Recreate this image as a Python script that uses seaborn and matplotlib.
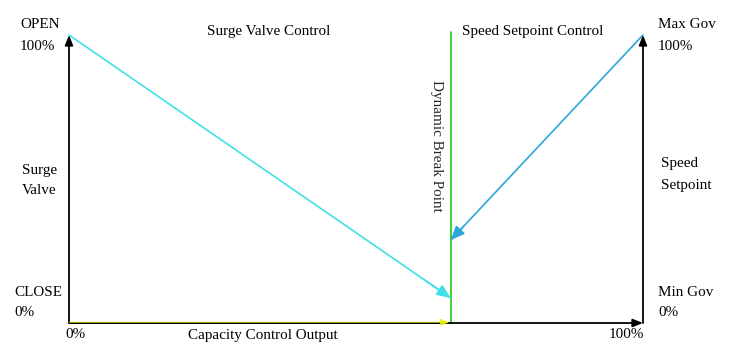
import matplotlib
matplotlib.use("Agg")
import matplotlib.pyplot as plt
import seaborn as sns
import pandas as pd

# ---- data (percent) ----
capacity_pct = [0, 66.5, 100]          # x: capacity control output
surge_valve_pct = [100, 8.7]           # surge valve from x=0 to break point
speed_setpoint_pct = [100, 28.8]       # speed setpoint from x=100 to break point
break_point_pct = 66.5
break_line_pct = [0, 101]
axis_labels_left = ["OPEN", "100%", "Surge", "Valve", "CLOSE", "0%"]
axis_labels_right = ["Max Gov", "100%", "Speed", "Setpoint", "Min Gov", "0%"]

sns.set_theme(style="white")
plt.rcParams['font.family'] = ['Liberation Serif', 'DejaVu Serif']

W, H = 736, 353
fig = plt.figure(figsize=(W / 100, H / 100), dpi=100)
x0p, x1p, y0p, y1p = 69, 643, 323, 35
ax = fig.add_axes([x0p / W, 1 - y0p / H, (x1p - x0p) / W, (y0p - y1p) / H])
ax.set_xlim(0, 100)
ax.set_ylim(0, 100)
ax.axis("off")

surge_df = pd.DataFrame({"x": capacity_pct[:2], "y": surge_valve_pct})
speed_df = pd.DataFrame({"x": [capacity_pct[2], capacity_pct[1]], "y": speed_setpoint_pct})
break_df = pd.DataFrame({"x": [break_point_pct, break_point_pct], "y": break_line_pct})

# axes with arrow heads
arrow_kw = dict(arrowstyle="-|>,head_length=0.5,head_width=0.2", color="black", lw=1.3,
                shrinkA=0, shrinkB=0)
ax.annotate("", xy=(0, 100), xytext=(0, 0), arrowprops=arrow_kw, annotation_clip=False)
ax.annotate("", xy=(100, 100), xytext=(100, 0), arrowprops=arrow_kw, annotation_clip=False)
ax.annotate("", xy=(100, 0), xytext=(break_point_pct, 0), arrowprops=arrow_kw, annotation_clip=False)
ax.plot([0, break_point_pct], [0, 0], color="black", lw=1.4, clip_on=False, zorder=2)
ax.annotate("", xy=(break_point_pct - 0.3, 0.25), xytext=(0, 0.25),
            arrowprops=dict(arrowstyle="-|>,head_length=0.45,head_width=0.18", color="#eeee00",
                            lw=0.6, shrinkA=0, shrinkB=0, alpha=0.9),
            annotation_clip=False, zorder=3)

# green break line
sns.lineplot(data=break_df, x="x", y="y", color="#33cc22", lw=1.3, ax=ax, sort=False,
             estimator=None, clip_on=False)

# surge valve and speed setpoint lines
sns.lineplot(data=surge_df, x="x", y="y", color="#40e0e8", lw=1.2, ax=ax, sort=False,
             estimator=None, clip_on=False)
sns.lineplot(data=speed_df, x="x", y="y", color="#2aa8d8", lw=1.2, ax=ax, sort=False,
             estimator=None, clip_on=False)

def head(df, color):
    xa, ya = df["x"].iloc[0], df["y"].iloc[0]
    xb, yb = df["x"].iloc[1], df["y"].iloc[1]
    t = 0.93
    ax.annotate("", xy=(xb, yb), xytext=(xa + (xb - xa) * t, ya + (yb - ya) * t),
                arrowprops=dict(arrowstyle="-|>,head_length=0.7,head_width=0.3", color=color,
                                lw=1.2, shrinkA=0, shrinkB=0), annotation_clip=False)

head(surge_df, "#40e0e8")
head(speed_df, "#2aa8d8")

fs = 10.9
def t(px, py, s, **kw):
    fig.text(px / W, 1 - py / H, s, fontsize=fs, color="black", va="center", **kw)

t(20, 24, axis_labels_left[0])
t(20, 46, axis_labels_left[1])
t(22, 170, axis_labels_left[2])
t(22, 191, axis_labels_left[3])
t(14, 292, axis_labels_left[4])
t(14, 313, axis_labels_left[5])

t(658, 25, axis_labels_right[0])
t(658, 47, axis_labels_right[1])
t(661, 164, axis_labels_right[2])
t(661, 186, axis_labels_right[3])
t(658, 292, axis_labels_right[4])
t(658, 313, axis_labels_right[5])

t(65, 335, "0%")
t(263, 336, "Capacity Control Output", ha="center")
t(626, 335, "100%", ha="center")
t(269, 32, "Surge Valve Control", ha="center")
t(533, 32, "Speed Setpoint Control", ha="center")
fig.text(436 / W, 1 - 146 / H, "Dynamic Break Point", fontsize=fs, rotation=-90,
         ha="center", va="center")

fig.savefig("out.png", dpi=100, facecolor="white")
